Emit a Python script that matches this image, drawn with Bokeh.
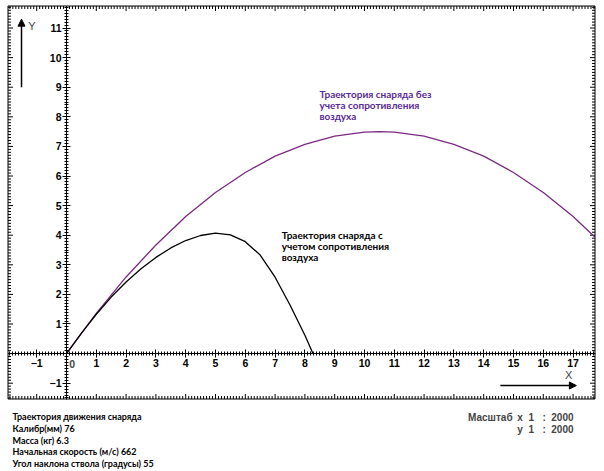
import numpy as np
from bokeh.plotting import figure
from bokeh.models import (LinearAxis, SingleIntervalTicker, Range1d, Label,
                          Arrow, NormalHead, BoxAnnotation)
from bokeh.embed import file_html
from bokeh.resources import INLINE

# ---------------- data ----------------
x_nodrag = [0, 1, 2, 3, 4, 5, 6, 7, 8, 9, 10, 10.5, 11, 12, 13, 14, 15, 16, 17, 17.72]
y_nodrag = [0, 1.36, 2.59, 3.67, 4.63, 5.44, 6.12, 6.67, 7.07, 7.35, 7.48, 7.50,
            7.48, 7.35, 7.07, 6.67, 6.12, 5.44, 4.63, 3.95]

x_drag = [0, 0.5, 1, 1.5, 2, 2.5, 3, 3.5, 4, 4.5, 5, 5.5, 6, 6.5, 7, 7.5, 8, 8.27]
y_drag = [0, 0.69, 1.33, 1.91, 2.42, 2.87, 3.25, 3.57, 3.82, 3.99, 4.07, 4.01,
          3.78, 3.33, 2.58, 1.64, 0.62, 0]

label_nodrag = ["Траектория снаряда без", "учета сопротивления", "воздуха"]
label_drag = ["Траектория снаряда с", "учетом сопротивления", "воздуха"]
info_lines = ["Траектория движения снаряда", "Калибр(мм) 76", "Масса (кг) 6.3",
              "Начальная скорость (м/с) 662", "Угол наклона ствола (градусы) 55"]
scale_title = "Масштаб"
scale_lines = ["x\u00a0\u00a01\u00a0\u00a0\u00a0:\u00a0\u00a02000",
               "y\u00a0\u00a01\u00a0\u00a0\u00a0:\u00a0\u00a02000"]

# visible range of the whole canvas
W, H = 600, 470
XL, XR = -2.215, 17.92
YB, YT = -3.95, 11.93
PX_X = (XR - XL) / W   # data units per pixel
PX_Y = (YT - YB) / H
# boxed chart area, edges on pixel centres
X0, X1 = XL + 7.5 * PX_X, XL + 594.5 * PX_X
Y1, Y0 = YT - 5.5 * PX_Y, YT - 398.5 * PX_Y

PURPLE = "#7a2a82"
PURPLE_TXT = "#5a2a96"

p = figure(width=W, height=H, output_backend="svg", toolbar_location=None,
           x_range=Range1d(XL, XR), y_range=Range1d(YB, YT),
           x_axis_location=None, y_axis_location=None,
           min_border=0)
p.grid.visible = False
p.outline_line_color = None
p.background_fill_color = "white"
p.border_fill_color = "white"

# box around the chart area
p.add_layout(BoxAnnotation(left=X0, right=X1, bottom=Y0, top=Y1,
                           fill_color=None, line_color="black", line_alpha=1.0,
                           line_width=1))

# tick marks along the box edges (every 0.1, longer at whole units)
kx = np.arange(int(np.ceil(X0 * 10)), int(np.floor(X1 * 10)) + 1)
ky = np.arange(int(np.ceil(Y0 * 10)), int(np.floor(Y1 * 10)) + 1)
ex = kx / 10.0
ey = ky / 10.0
lx = np.where(kx % 10 == 0, 5, 3) * PX_Y
ly = np.where(ky % 10 == 0, 5, 3) * PX_X
p.segment(ex, Y1, ex, Y1 - lx, line_color="black", line_width=1)
p.segment(ex, Y0, ex, Y0 + lx, line_color="black", line_width=1)
p.segment(X0, ey, X0 + ly, ey, line_color="black", line_width=1)
p.segment(X1, ey, X1 - ly, ey, line_color="black", line_width=1)


def ticker():
    return SingleIntervalTicker(interval=1, num_minor_ticks=10)


def style_axis(ax):
    ax.axis_line_color = "black"
    ax.major_tick_line_color = "black"
    ax.minor_tick_line_color = "black"
    ax.major_label_text_font = "Liberation Sans"
    ax.major_label_text_font_style = "bold"
    ax.major_label_text_font_size = "10.5px"
    ax.major_label_text_color = "black"
    ax.major_label_standoff = 1
    ax.major_tick_in = 4
    ax.major_tick_out = 4
    ax.minor_tick_in = 2
    ax.minor_tick_out = 2


# central axes
xa = LinearAxis(ticker=ticker(), fixed_location=0, bounds=(X0, X1))
style_axis(xa)
xa.major_label_overrides = {0: ""}
p.add_layout(xa, "below")

ya = LinearAxis(ticker=ticker(), fixed_location=0, bounds=(Y0, Y1))
style_axis(ya)
ya.major_label_overrides = {0: ""}
p.add_layout(ya, "left")

# the origin label sits to the right of the vertical axis
p.add_layout(Label(x=0.19, y=-0.34, text="0", text_font="Liberation Sans",
                   text_font_style="bold", text_font_size="10.5px",
                   text_align="center", text_baseline="middle"))

# curves
p.line(x_nodrag, y_nodrag, line_color=PURPLE, line_width=1.3)
p.line(x_drag, y_drag, line_color="black", line_width=1.3)

# curve labels
for i, t in enumerate(label_nodrag):
    p.add_layout(Label(x=8.49, y=8.78 - i * 0.37, text=t, text_font="Lato",
                       text_font_style="bold", text_font_size="10px",
                       text_color=PURPLE_TXT, text_baseline="middle"))
for i, t in enumerate(label_drag):
    p.add_layout(Label(x=7.22, y=4.0 - i * 0.36, text=t, text_font="Lato",
                       text_font_style="bold", text_font_size="10px",
                       text_color="black", text_baseline="middle"))

# axis arrows
p.add_layout(Arrow(end=NormalHead(size=7, fill_color="black", line_color="black"),
                   x_start=-1.51, y_start=9.0, x_end=-1.51, y_end=11.3,
                   line_width=1.5, line_color="black"))
p.add_layout(Arrow(end=NormalHead(size=7, fill_color="black", line_color="black"),
                   x_start=14.56, y_start=-1.08, x_end=17.11, y_end=-1.08,
                   line_width=1.5, line_color="black"))
p.add_layout(Label(x=-1.16, y=11.08, text="Y", text_font="Liberation Sans",
                   text_font_size="11px", text_align="center",
                   text_baseline="middle"))
p.add_layout(Label(x=16.85, y=-0.74, text="X", text_font="Liberation Sans",
                   text_font_size="11px", text_align="center",
                   text_baseline="middle"))

# info text below the box
info_y = [-2.128, -2.534, -2.922, -3.311, -3.699]
for t, yy in zip(info_lines, info_y):
    p.add_layout(Label(x=-1.812, y=yy, text=t, text_font="Lato",
                       text_font_style="bold", text_font_size="9px",
                       text_color="black", text_baseline="middle"))

p.add_layout(Label(x=14.97, y=-2.16, text=scale_title, text_font="Liberation Sans",
                   text_font_style="bold", text_font_size="10px",
                   text_align="right", text_baseline="middle"))
for i, t in enumerate(scale_lines):
    p.add_layout(Label(x=15.13, y=-2.16 - i * 0.42, text=t, text_font="Liberation Sans",
                       text_font_style="bold", text_font_size="10px",
                       text_baseline="middle"))

open("out.html", "w").write(file_html(p, INLINE))
